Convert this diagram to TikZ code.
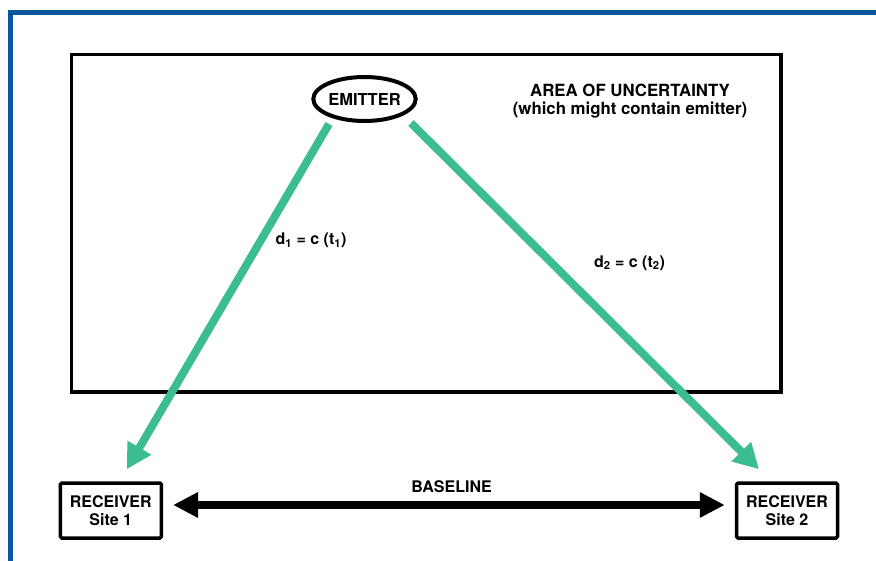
\documentclass[tikz,border=0pt]{standalone}
\usepackage{fontspec}
\setmainfont{TeX Gyre Heros}
\usetikzlibrary{arrows.meta,shapes.geometric}
\definecolor{colFrame}{RGB}{11,84,158}
\definecolor{colPath}{RGB}{60,189,143}

\begin{document}
\begin{tikzpicture}[x=1pt, y=-1pt,
    every node/.style={font=\fontsize{16}{18.5}\selectfont\bfseries, inner sep=0pt},
    rxbox/.style={draw, line width=3.5pt, rounded corners=1.5pt,
      minimum width=101pt, minimum height=55pt, align=center},
    pathline/.style={colPath, line width=8pt, -{Triangle[length=25pt,width=26pt]}},
    basearrow/.style={line width=8.5pt, {Triangle[length=25pt,width=24pt]}-{Triangle[length=25pt,width=24pt]}}]
  \useasboundingbox (0,0) rectangle (876,561);
  % frame
  \draw[colFrame, line width=5pt] (10.5,561) -- (10.5,12.5) -- (876,12.5);
  % area of uncertainty
  \draw[line width=3.5pt] (71.5,54.5) rectangle (781,392);
  \node[align=center, font=\fontsize{16.8}{18.5}\selectfont\bfseries] (area) at (630,101) {AREA OF UNCERTAINTY\\(which might contain emitter)};
  % emitter and receivers
  \node[ellipse, draw, line width=4pt, minimum width=91pt, minimum height=44pt,
    font=\fontsize{16.5}{18.5}\selectfont\bfseries] (emitter) at (364.5,99) {EMITTER};
  \node[rxbox] (rx1) at (110.8,510.5) {RECEIVER\\Site 1};
  \node[rxbox] (rx2) at (787,510.5) {RECEIVER\\Site 2};
  % ranges
  \draw[pathline] ([shift={(-35.5,1)}]emitter.south) -- ([shift={(16,-12)}]rx1.north);
  \draw[pathline] ([shift={(46.5,0)}]emitter.south) -- ([shift={(-28,-12)}]rx2.north);
  \node (d1) at (311,240.5) {d\textsubscript{1} = c (t\textsubscript{1})};
  \node (d2) at (629.5,263) {d\textsubscript{2} = c (t\textsubscript{2})};
  % baseline
  \draw[basearrow] ([shift={(10,-5.5)}]rx1.east) -- ([shift={(-10,-5.5)}]rx2.west);
  \node (base) at (451.5,487) {BASELINE};
\end{tikzpicture}
\end{document}
